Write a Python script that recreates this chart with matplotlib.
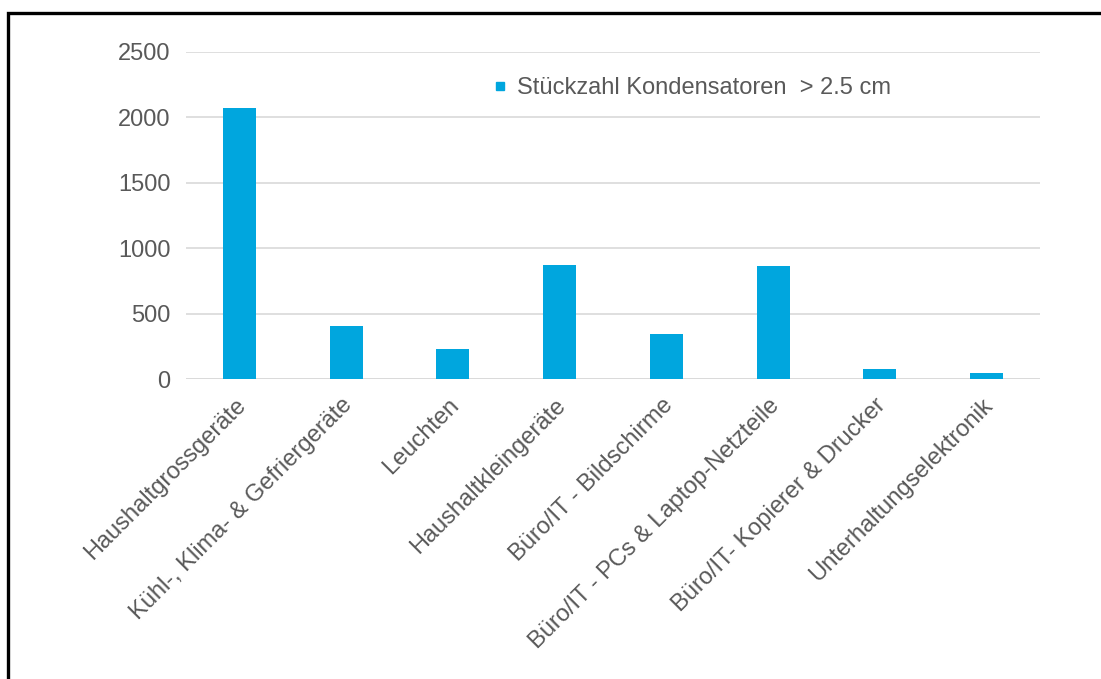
import matplotlib
matplotlib.use("Agg")
import matplotlib.pyplot as plt
import matplotlib.transforms as mtransforms
from matplotlib.lines import Line2D
from matplotlib.patches import Rectangle

categories = [
    "Haushaltgrossgeräte",
    "Kühl-, Klima- & Gefriergeräte",
    "Leuchten",
    "Haushaltkleingeräte",
    "Büro/IT - Bildschirme",
    "Büro/IT - PCs & Laptop-Netzteile",
    "Büro/IT- Kopierer & Drucker",
    "Unterhaltungselektronik",
]
values = [2070, 405, 230, 872, 342, 864, 76, 46]
series_label = "Stückzahl Kondensatoren  > 2.5 cm"
yticks = [0, 500, 1000, 1500, 2000, 2500]

BAR = "#00A6DE"
TEXT = "#595959"
GRID = "#D9D9D9"

plt.rcParams["font.family"] = ["Liberation Sans", "DejaVu Sans"]

W, H = 1101, 679
fig = plt.figure(figsize=(W / 100, H / 100), dpi=100)
ax = fig.add_axes([186 / W, 1 - 379 / H, (1040 - 186) / W, (379 - 52) / H])

x = list(range(len(categories)))
ax.bar(x, values, width=0.31, color=BAR, zorder=3)

ax.set_xlim(-0.5, len(categories) - 0.5)
ax.set_ylim(0, 2500)
ax.set_yticks(yticks)
ax.set_yticklabels([str(v) for v in yticks], fontsize=17, color=TEXT)
ax.yaxis.grid(True, color=GRID, linewidth=1.2, zorder=0)
ax.set_xticks(x)
ax.set_xticklabels(categories, rotation=45, ha="right", rotation_mode="anchor",
                   fontsize=17, color=TEXT)
ax.tick_params(axis="y", length=0, pad=11)
ax.tick_params(axis="x", length=0, pad=11)
shift = mtransforms.ScaledTranslation(-5 / 100, 0, fig.dpi_scale_trans)
for lbl in ax.get_xticklabels():
    lbl.set_transform(lbl.get_transform() + shift)
for s in ax.spines.values():
    s.set_visible(False)
ax.axhline(0, color=GRID, linewidth=1.2, zorder=2)

handle = Line2D([], [], marker="s", linestyle="none", color=BAR, markersize=6)
fig.legend([handle], [series_label], loc="center left",
           bbox_to_anchor=(493 / W, 1 - 88 / H), frameon=False,
           fontsize=17, labelcolor=TEXT, handlelength=0.6,
           handletextpad=0.4, borderpad=0, borderaxespad=0)

# frame drawn around the figure region
fig.patches.append(Rectangle((8 / W, -0.1), 1.2, 1 - 13 / H + 0.1,
                             transform=fig.transFigure, fill=False,
                             edgecolor="black", linewidth=2.4))

fig.savefig("out.png", dpi=100, facecolor="white")
